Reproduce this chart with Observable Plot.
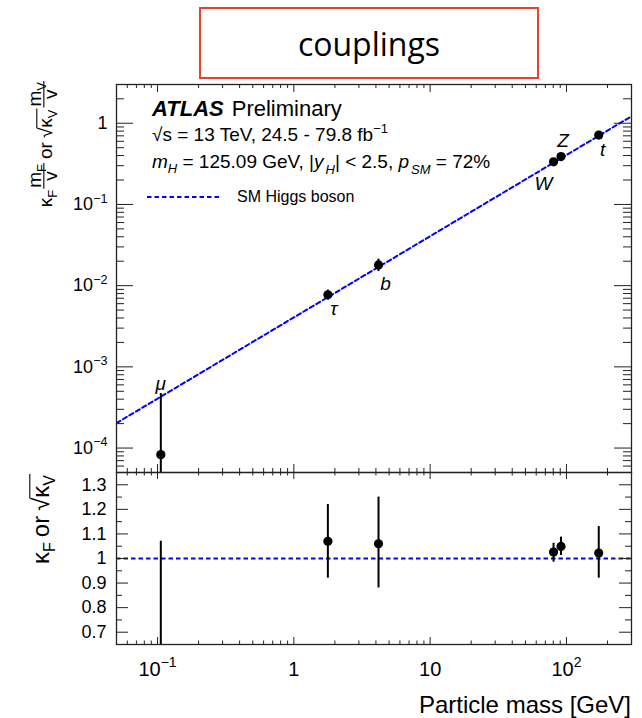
<!DOCTYPE html>
<html>
<head>
<meta charset="utf-8">
<script src="https://cdn.jsdelivr.net/npm/d3@7"></script>
<script src="https://cdn.jsdelivr.net/npm/@observablehq/plot@0.6"></script>
<style>
  html, body { margin: 0; padding: 0; background: #fff; }
  #wrap { position: relative; width: 642px; height: 718px; overflow: hidden; background: #fff;
          font-family: "Liberation Sans", Arial, sans-serif; }
  #upper { position: absolute; left: 0; top: 0; }
  #lower { position: absolute; left: 0; top: 470px; }
  #title { position: absolute; left: 199px; top: 7px; width: 336px; height: 68px;
           border: 2px solid #e8432e; display: flex; align-items: center; justify-content: center;
           font-family: "Open Sans", sans-serif; font-size: 32px; color: #000; box-sizing: content-box; }
</style>
</head>
<body>
<div id="wrap">
  <div id="upper"></div>
  <div id="lower"></div>
  <div id="title">couplings</div>
</div>
<script>
// ---------------- data ----------------
const particles   = ["μ", "τ", "b", "W", "Z", "t"];
const masses      = [0.1057, 1.777, 4.18, 80.4, 91.19, 172.5];           // GeV
const coupling    = [8.3e-5, 7.72e-3, 0.0180, 0.335, 0.389, 0.716];       // kappa*m/v
const couplingLo  = [1e-6, 6.64e-3, 0.0149, 0.322, 0.375, 0.645];
const couplingHi  = [4.7e-4, 8.81e-3, 0.0212, 0.347, 0.403, 0.792];
const kappa       = [0.19, 1.07, 1.06, 1.026, 1.049, 1.022];
const kappaLo     = [0.0, 0.92, 0.88, 0.985, 1.012, 0.92];
const kappaHi     = [1.07, 1.22, 1.25, 1.062, 1.087, 1.13];
const smMass      = [0.05, 300];
const smValue     = [2.03e-4, 1.219];
const smRatio     = [1];
const xTicks      = [0.1, 1, 10, 100];
const xTickLabels = ["10^-1", "1", "10", "10^2"];
const yTicksUpper = [1e-4, 1e-3, 1e-2, 1e-1, 1];
const yTickLabelsUpper = ["10^-4", "10^-3", "10^-2", "10^-1", "1"];
const yTicksLower = [0.7, 0.8, 0.9, 1, 1.1, 1.2, 1.3];
const yTickLabelsLower = ["0.7", "0.8", "0.9", "1", "1.1", "1.2", "1.3"];

const rows = particles.map((p, i) => ({
  p, m: masses[i], v: coupling[i], lo: couplingLo[i], hi: couplingHi[i],
  k: kappa[i], klo: kappaLo[i], khi: kappaHi[i]
}));
const smCurve = smMass.map((m, i) => ({m, v: smValue[i]}));
const xTickRows = xTicks.map((v, i) => ({v, label: xTickLabels[i]}));
const yTickRowsU = yTicksUpper.map((v, i) => ({v, label: yTickLabelsUpper[i]}));
const yTickRowsL = yTicksLower.map((v, i) => ({v, label: yTickLabelsLower[i]}));

// ---------------- helpers ----------------
const FONT = "Liberation Sans, Arial, sans-serif";
const XDOM = [0.05, 300];
const YDOM_U = [5e-5, 3];
const YDOM_L = [0.65, 1.35];
const W = 642, ML = 116, MR = 11;
const innerW = W - ML - MR;

function inside(v, dom) {
  const lo = Math.min(...dom), hi = Math.max(...dom);
  return v > lo * 1.0001 && v < hi * 0.9999;
}
function splitTicks(all, majors, dom) {
  const t = all.filter(v => inside(v, dom));
  const isMaj = v => majors.some(m => Math.abs(m - v) / Math.abs(m) < 1e-6);
  return {major: t.filter(isMaj), minor: t.filter(v => !isMaj(v))};
}
function frameTicks(xt, yt, innerH, xMaj, xMin, yMaj, yMin) {
  const st = {stroke: "#222", strokeWidth: 1};
  return [
    Plot.ruleX(xt.major, {x: d => d, insetTop: innerH - xMaj, ...st}),
    Plot.ruleX(xt.major, {x: d => d, insetBottom: innerH - xMaj, ...st}),
    Plot.ruleX(xt.minor, {x: d => d, insetTop: innerH - xMin, ...st}),
    Plot.ruleX(xt.minor, {x: d => d, insetBottom: innerH - xMin, ...st}),
    Plot.ruleY(yt.major, {y: d => d, insetRight: innerW - yMaj, ...st}),
    Plot.ruleY(yt.major, {y: d => d, insetLeft: innerW - yMaj, ...st}),
    Plot.ruleY(yt.minor, {y: d => d, insetRight: innerW - yMin, ...st}),
    Plot.ruleY(yt.minor, {y: d => d, insetLeft: innerW - yMin, ...st})
  ];
}
const SVGNS = "http://www.w3.org/2000/svg";
function supify(root) {
  root.querySelectorAll("text").forEach(t => {
    if (t.children.length) return;
    const m = (t.textContent || "").match(/^(.*)\^(.+)$/);
    if (!m) return;
    t.textContent = "";
    const a = document.createElementNS(SVGNS, "tspan");
    a.textContent = m[1];
    const b = document.createElementNS(SVGNS, "tspan");
    b.setAttribute("dy", "-0.6em");
    b.setAttribute("font-size", "70%");
    b.textContent = m[2].replace("-", "−");
    t.appendChild(a); t.appendChild(b);
  });
}
function put(g, str, x, y, size, extra = {}) {
  const t = g.append("text").attr("x", x).attr("y", y).attr("font-size", size).text(str);
  for (const k in extra) t.attr(k, extra[k]);
  return t.node().getComputedTextLength();
}
function measure(g, str, size) {
  const t = g.append("text").attr("font-size", size).text(str);
  const w = t.node().getComputedTextLength();
  t.remove();
  return w;
}
function kappaSub(g, cx, F, S, sub) {
  const w1 = put(g, "κ", cx, 0, F);
  const w2 = put(g, sub, cx + w1, F * 0.25, S);
  return w1 + w2;
}
function sqrtKappa(g, cx, F, S, sub) {
  const wr = put(g, "√", cx, 0, F);
  const wk = kappaSub(g, cx + wr, F, S, sub);
  g.append("line").attr("x1", cx + wr - 0.5).attr("x2", cx + wr + wk + 1)
    .attr("y1", -F * 0.8).attr("y2", -F * 0.8).attr("stroke", "#000").attr("stroke-width", 1.1);
  return wr + wk + 1;
}
function fraction(g, cx, F, S, sub) {
  const wm = measure(g, "m", F), ws = measure(g, sub, S), wv = measure(g, "v", F);
  const wn = wm + ws, fw = Math.max(wn, wv) + 2;
  put(g, "m", cx + (fw - wn) / 2, -F * 0.56, F);
  put(g, sub, cx + (fw - wn) / 2 + wm, -F * 0.56 + F * 0.22, S);
  g.append("line").attr("x1", cx).attr("x2", cx + fw).attr("y1", -F * 0.43).attr("y2", -F * 0.43)
    .attr("stroke", "#000").attr("stroke-width", 1.1);
  put(g, "v", cx + (fw - wv) / 2, F * 0.27, F);
  return fw;
}

// ---------------- upper panel ----------------
const innerHU = 474 - 84 - 2;
const xt = splitTicks(d3.scaleLog().domain(XDOM).ticks(), xTicks, XDOM);
const ytU = splitTicks(d3.scaleLog().domain(YDOM_U).ticks(), yTicksUpper, YDOM_U);

const labelOpts = {
  "μ": {y: "hi", dx: 0, dy: -10},
  "τ": {y: "v", dx: 6, dy: 14},
  "b": {y: "v", dx: 7, dy: 19},
  "W": {y: "v", dx: -10, dy: 22},
  "Z": {y: "v", dx: 2, dy: -16},
  "t": {y: "v", dx: 4, dy: 15}
};
const particleLabels = rows.map(r => {
  const o = labelOpts[r.p];
  return Plot.text([r], {x: "m", y: o.y, text: "p", dx: o.dx, dy: o.dy, fontSize: 19,
    fontStyle: "italic", fill: "#000"});
});

const upper = Plot.plot({
  width: W, height: 474,
  marginLeft: ML, marginRight: MR, marginTop: 84, marginBottom: 2,
  x: {type: "log", domain: XDOM, axis: null},
  y: {type: "log", domain: YDOM_U, axis: null},
  style: {fontFamily: FONT, background: "none", overflow: "visible", color: "#000"},
  marks: [
    Plot.line(smCurve, {x: "m", y: "v", stroke: "#0000ff", strokeWidth: 2, strokeDasharray: "4.5,3", clip: true}),
    Plot.ruleX(rows, {x: "m", y1: "lo", y2: "hi", stroke: "#000", strokeWidth: 2, clip: true}),
    Plot.dot(rows, {x: "m", y: "v", r: 4.6, fill: "#000", stroke: "none", clip: true}),
    ...particleLabels,
    ...frameTicks(xt, ytU, innerHU, 8, 4, 17, 8),
    Plot.frame({stroke: "#222", strokeWidth: 1.3}),
    Plot.text(yTickRowsU, {y: "v", text: "label", frameAnchor: "left", dx: -9, textAnchor: "end",
      fontSize: 18, fill: "#000"})
  ]
});
document.getElementById("upper").appendChild(upper);
supify(upper);

{
  const svg = d3.select(upper);
  const g = svg.append("g").attr("font-family", FONT).attr("fill", "#000").attr("text-anchor", "start");
  // ATLAS label
  const t1 = g.append("text").attr("x", 152).attr("y", 116).attr("font-size", 22);
  t1.append("tspan").attr("font-weight", "bold").attr("font-style", "italic").text("ATLAS");
  t1.append("tspan").attr("dx", 8).text("Preliminary");
  // energy / luminosity
  const t2 = g.append("text").attr("x", 152).attr("y", 141).attr("font-size", 19);
  t2.append("tspan").text("√s = 13 TeV, 24.5 - 79.8 fb");
  t2.append("tspan").attr("dy", -8).attr("font-size", 13).text("−1");
  // mass line
  const t3 = g.append("text").attr("x", 152).attr("y", 168).attr("font-size", 19);
  t3.append("tspan").attr("font-style", "italic").text("m");
  t3.append("tspan").attr("font-style", "italic").attr("font-size", 13).attr("dy", 5).text("H");
  t3.append("tspan").attr("dy", -5).text(" = 125.09 GeV, |");
  t3.append("tspan").attr("font-style", "italic").text("y");
  t3.append("tspan").attr("font-style", "italic").attr("font-size", 13).attr("dy", 6).attr("dx", 2).text("H");
  t3.append("tspan").attr("dy", -6).text("| < 2.5, ");
  t3.append("tspan").attr("font-style", "italic").text("p");
  t3.append("tspan").attr("font-style", "italic").attr("font-size", 13).attr("dy", 6).attr("dx", 2).text("SM");
  t3.append("tspan").attr("dy", -6).text(" = 72%");
  // legend
  g.append("line").attr("x1", 147).attr("x2", 220).attr("y1", 197).attr("y2", 197)
    .attr("stroke", "#0000ff").attr("stroke-width", 2).attr("stroke-dasharray", "4.5,3");
  g.append("text").attr("x", 237).attr("y", 202).attr("font-size", 16).text("SM Higgs boson");

  // y title (rotated)
  const yg = svg.append("g").attr("font-family", FONT).attr("fill", "#000").attr("text-anchor", "start");
  const F = 19, S = 13;
  let cx = 0;
  cx += kappaSub(yg, cx, F, S, "F") + 1;
  cx += fraction(yg, cx, F, S, "F") + 4;
  cx += put(yg, "or", cx, 0, F) + 4;
  cx += sqrtKappa(yg, cx, F, S, "V") + 1;
  cx += fraction(yg, cx, F, S, "V");
  yg.attr("transform", `translate(52,${81 + cx}) rotate(-90)`);
}

// ---------------- lower panel ----------------
const innerHL = 248 - 2 - 74;
const ytL = splitTicks(d3.range(13, 28).map(v => v * 0.05), yTicksLower, YDOM_L);

const lower = Plot.plot({
  width: W, height: 248,
  marginLeft: ML, marginRight: MR, marginTop: 2, marginBottom: 74,
  x: {type: "log", domain: XDOM, axis: null},
  y: {domain: YDOM_L, axis: null},
  style: {fontFamily: FONT, background: "none", overflow: "visible", color: "#000"},
  marks: [
    Plot.ruleY(smRatio, {y: d => d, stroke: "#0000ff", strokeWidth: 2, strokeDasharray: "4.5,3"}),
    Plot.ruleX(rows, {x: "m", y1: "klo", y2: "khi", stroke: "#000", strokeWidth: 2, clip: true}),
    Plot.dot(rows, {x: "m", y: "k", r: 4.6, fill: "#000", stroke: "none", clip: true}),
    ...frameTicks(xt, ytL, innerHL, 7, 3.5, 12, 6),
    Plot.frame({stroke: "#222", strokeWidth: 1.3}),
    Plot.text(xTickRows, {x: "v", text: "label", frameAnchor: "bottom", dy: 17, lineAnchor: "top",
      fontSize: 20, fill: "#000"}),
    Plot.text(yTickRowsL, {y: "v", text: "label", frameAnchor: "left", dx: -10, textAnchor: "end",
      fontSize: 18, fill: "#000"})
  ]
});
document.getElementById("lower").appendChild(lower);
supify(lower);

{
  const svg = d3.select(lower);
  svg.append("text").attr("x", 631).attr("y", 243).attr("text-anchor", "end")
    .attr("font-family", FONT).attr("font-size", 24).attr("fill", "#000").text("Particle mass [GeV]");
  const yg = svg.append("g").attr("font-family", FONT).attr("fill", "#000").attr("text-anchor", "start");
  const F = 24, S = 16;
  let cx = 0;
  cx += kappaSub(yg, cx, F, S, "F") + 5;
  cx += put(yg, "or", cx, 0, F) + 5;
  cx += sqrtKappa(yg, cx, F, S, "V");
  yg.attr("transform", `translate(49,${4 + cx}) rotate(-90)`);
}
</script>
</body>
</html>
